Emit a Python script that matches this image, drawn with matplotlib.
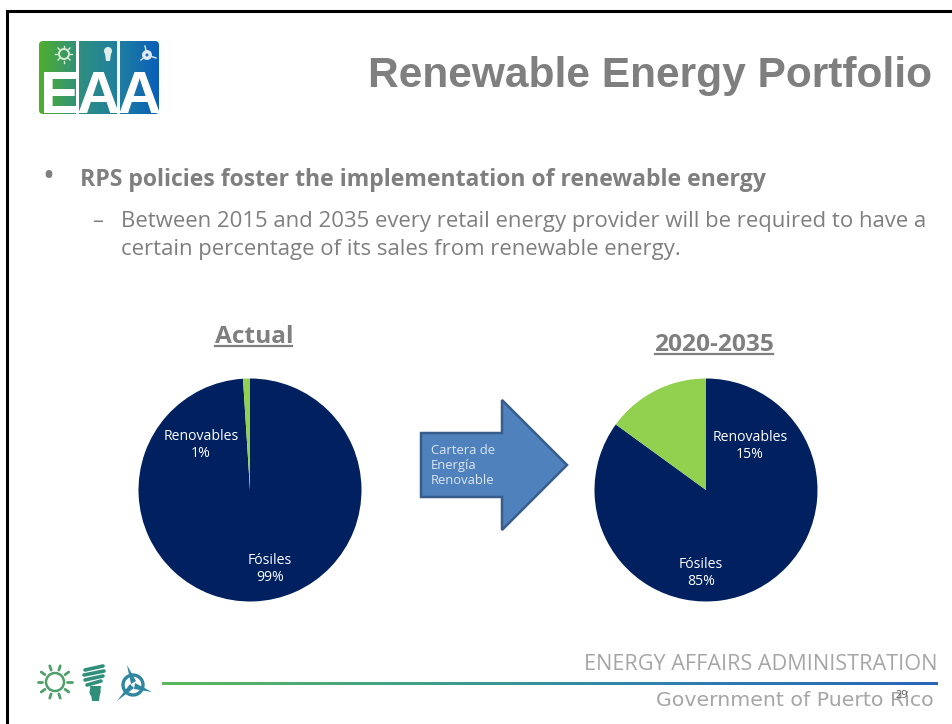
# -*- coding: utf-8 -*-
"""Renewable Energy Portfolio slide: two pies, arrow, logo and footer."""

import matplotlib
matplotlib.use("Agg")
import matplotlib.pyplot as plt
import numpy as np
from matplotlib.patches import Circle, FancyBboxPatch, Polygon

W, H = 953, 724

ETIQUETAS = ["Fósiles", "Renovables"]
ACTUAL = [99, 1]
FUTURO = [85, 15]

AZUL, VERDE = "#002060", "#92d050"
GRIS, GRIS_CLARO = "#7f7f7f", "#a6a6a6"
FLECHA, FLECHA_BORDE = "#4f81bd", "#385d8a"
FUENTE = "Open Sans"


def pt(px):
    return px * 0.72


def pastel(fig, cx, cy, r, valores):
    ax = fig.add_axes([(cx - r) / W, 1 - (cy + r) / H, 2 * r / W, 2 * r / H])
    ax.pie(valores, colors=[AZUL, VERDE], startangle=90, counterclock=False,
           radius=1, wedgeprops={"linewidth": 0})
    ax.set_xlim(-1, 1)
    ax.set_ylim(-1, 1)
    ax.axis("off")


def logo(ax):
    x = np.linspace(0, 1, 120).reshape(1, -1)
    cm = matplotlib.colors.LinearSegmentedColormap.from_list(
        "eaa", ["#4fae2e", "#2f8f7f", "#1f7fa0", "#0a5fb8"])
    im = ax.imshow(x, extent=(39, 159, 114, 41), cmap=cm, aspect="auto", zorder=1)
    caja = FancyBboxPatch((41, 43), 116, 69, boxstyle="round,pad=2,rounding_size=4",
                          fc="none", ec="none", transform=ax.transData)
    ax.add_patch(caja)
    im.set_clip_path(caja)
    for xb in (76.5, 117.5):
        ax.fill_between([xb, xb + 3], 41, 114, color="white", lw=0, zorder=2)
    for letra, xc in zip("EAA", (60, 98, 139)):
        ax.text(xc, 113, letra, color="white", fontsize=pt(60), family="Liberation Sans",
                weight="bold", ha="center", va="baseline", zorder=3)
    # iconos pequeños de la parte de arriba
    ax.add_patch(Circle((64, 54), 5, fc="none", ec="#d8ecd0", lw=1.4, zorder=3))
    for a in np.deg2rad(np.arange(0, 360, 45)):
        ax.plot([64 + 6.5 * np.cos(a), 64 + 8.5 * np.cos(a)],
                [54 + 6.5 * np.sin(a), 54 + 8.5 * np.sin(a)], color="#d8ecd0", lw=1, zorder=3)
    ax.add_patch(Circle((108, 51), 4, fc="#dfeee8", lw=0, zorder=3))
    ax.add_patch(Polygon([(104.5, 50), (111.5, 50), (110, 61), (106, 61)], fc="#dfeee8", lw=0, zorder=3))
    ax.add_patch(Circle((147, 55), 5, fc="#dfe8f4", lw=0, zorder=3))
    ax.plot([145, 147, 156], [46, 55, 58], color="#dfe8f4", lw=1, zorder=3)
    ax.plot([147, 141], [55, 60], color="#dfe8f4", lw=1, zorder=3)
    ax.add_patch(Circle((147, 55), 1.5, fc="#1f6fb0", lw=0, zorder=4))


def iconos(ax):
    verde_sol, verde_foco, azul_turb = "#4f9f6a", "#2f8f7a", "#2f86a0"
    ax.add_patch(Circle((55, 682), 9, fc="none", ec=verde_sol, lw=1.8))
    for a in np.deg2rad(np.arange(0, 360, 36)):
        ax.plot([55 + 12.5 * np.cos(a), 55 + 17 * np.cos(a)],
                [682 + 12.5 * np.sin(a), 682 + 17 * np.sin(a)],
                color=verde_sol, lw=2, solid_capstyle="round")
    for y, x0, x1 in ((667, 85, 103), (672, 84, 104), (677, 85, 103), (682, 87, 101)):
        ax.plot([x0, x1], [y + 3, y - 1], color=verde_foco, lw=2.6, solid_capstyle="round")
    ax.add_patch(Circle((95, 692), 5.5, fc=verde_foco, lw=0))
    ax.add_patch(Polygon([(90, 686), (101, 686), (99, 701), (92, 701)], fc=verde_foco, lw=0))
    # aerogenerador: aspas que se afinan hacia la punta
    ax.add_patch(Circle((133, 685), 10, fc="none", ec=azul_turb, lw=2.4))
    ax.add_patch(Polygon([(127, 665), (136, 681), (131, 684)], fc=azul_turb, lw=0))
    ax.add_patch(Polygon([(152, 692), (135, 683), (134, 689)], fc=azul_turb, lw=0))
    ax.add_patch(Polygon([(117, 701), (130, 684), (134, 688)], fc=azul_turb, lw=0))


def main():
    fig = plt.figure(figsize=(W / 100, H / 100), dpi=100, facecolor="white")
    ax = fig.add_axes([0, 0, 1, 1])
    ax.set_xlim(0, W)
    ax.set_ylim(H, 0)
    ax.axis("off")

    # marco de la diapositiva
    ax.plot([7.5, 7.5, 953], [724, 10.5, 10.5], color="black", lw=2.2,
            solid_joinstyle="miter")

    logo(ax)
    iconos(ax)

    ax.text(932, 76, "Renewable Energy Portfolio", color=GRIS, fontsize=pt(42.5),
            family="Liberation Sans", weight="bold", ha="right", va="center")
    ax.text(42, 178, "•", color=GRIS, fontsize=pt(32), family=FUENTE,
            ha="left", va="center")
    ax.text(80, 179.5, "RPS policies foster the implementation of renewable energy",
            color=GRIS, fontsize=pt(23), family=FUENTE, weight="bold",
            ha="left", va="center")
    ax.text(92, 222, "–", color=GRIS, fontsize=pt(22), family=FUENTE, va="center")
    ax.text(121, 222, "Between 2015 and 2035 every retail energy provider will be required to have a",
            color=GRIS, fontsize=pt(22.1), family=FUENTE, va="center")
    ax.text(121, 249, "certain percentage of its sales from renewable energy.",
            color=GRIS, fontsize=pt(22.1), family=FUENTE, va="center")

    ax.text(254, 337, "Actual", color=GRIS, fontsize=pt(24.5), family=FUENTE,
            weight="bold", ha="center", va="center")
    ax.plot([215, 292], [346, 346], color=GRIS, lw=1.6)
    ax.text(714, 345, "2020-2035", color=GRIS, fontsize=pt(24.5), family=FUENTE,
            weight="bold", ha="center", va="center")
    ax.plot([655, 773], [354, 354], color=GRIS, lw=1.6)

    # flecha
    ax.add_patch(Polygon([(421, 433), (502, 433), (502, 400), (567, 465),
                          (502, 530), (502, 497), (421, 497)],
                         fc=FLECHA, ec=FLECHA_BORDE, lw=1.8))
    for y, s in ((451, "Cartera de"), (465, "Energía"), (480, "Renovable")):
        ax.text(431, y, s, color="#dce6f2", fontsize=pt(13), family=FUENTE, va="center")

    # pie de página
    x = np.linspace(0, 1, 400).reshape(1, -1)
    cm = matplotlib.colors.LinearSegmentedColormap.from_list(
        "linea", ["#5cb85c", "#3fa08a", "#2f7fb0", "#2a66b8"])
    ax.imshow(x, extent=(162, 938, 685, 682), cmap=cm, aspect="auto")
    ax.set_xlim(0, W)
    ax.set_ylim(H, 0)
    ax.text(938, 665, "ENERGY AFFAIRS ADMINISTRATION", color=GRIS_CLARO,
            fontsize=pt(21.7), family=FUENTE, ha="right", va="center")
    ax.text(934, 700, "Government of Puerto Rico", color=GRIS_CLARO,
            fontsize=pt(20.5), family="DejaVu Sans", ha="right", va="center")
    ax.text(902, 695, "29", color="#595959", fontsize=pt(11), family=FUENTE,
            ha="center", va="center")

    pastel(fig, 250, 490, 111.5, ACTUAL)
    pastel(fig, 706, 490, 111.5, FUTURO)

    # rótulos encima de los pasteles
    capa = fig.add_axes([0, 0, 1, 1], facecolor="none")
    capa.set_xlim(0, W)
    capa.set_ylim(H, 0)
    capa.axis("off")
    rotulos = [(270, 569, ETIQUETAS[0], ACTUAL[0]), (201, 445, ETIQUETAS[1], ACTUAL[1]),
               (701, 573, ETIQUETAS[0], FUTURO[0]), (750, 446, ETIQUETAS[1], FUTURO[1])]
    for xt, yt, nombre, v in rotulos:
        capa.text(xt, yt, f"{nombre}\n{v}%", color="white", fontsize=pt(14),
                  family=FUENTE, ha="center", va="center", linespacing=1.1)

    fig.savefig("out.png", dpi=100, facecolor="white")


if __name__ == "__main__":
    main()
